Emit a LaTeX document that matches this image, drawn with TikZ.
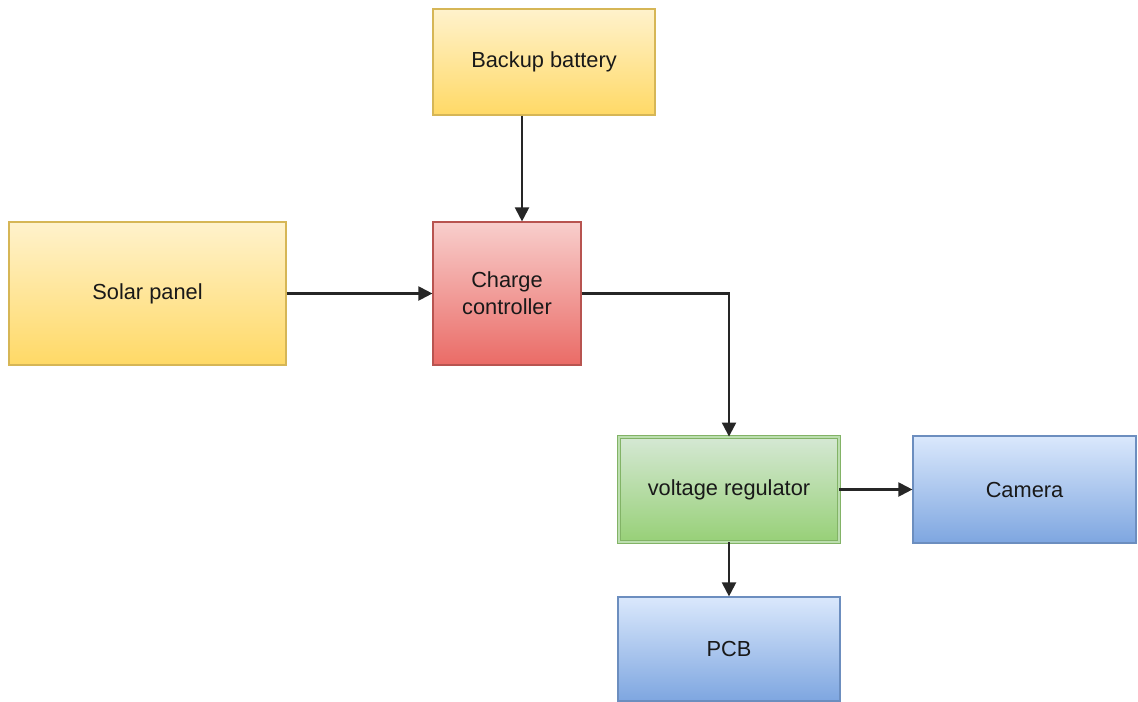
\documentclass[tikz,border=0pt]{standalone}
\usepackage{fontspec}
\setmainfont{Liberation Sans}
\usetikzlibrary{arrows.meta}
\definecolor{yelTop}{HTML}{FFF2CC}
\definecolor{yelBot}{HTML}{FFD966}
\definecolor{yelLine}{HTML}{D6B656}
\definecolor{redTop}{HTML}{F8CECC}
\definecolor{redBot}{HTML}{EA6B66}
\definecolor{redLine}{HTML}{B85450}
\definecolor{grnTop}{HTML}{D5E8D4}
\definecolor{grnBot}{HTML}{97D077}
\definecolor{grnLine}{HTML}{82B366}
\definecolor{bluTop}{HTML}{DAE8FC}
\definecolor{bluBot}{HTML}{7EA6E0}
\definecolor{bluLine}{HTML}{6C8EBF}
\tikzset{
  box/.style={rectangle, inner sep=2pt, align=center, text=black!90,
    font=\fontsize{15.5}{19}\selectfont, line width=0.8pt},
  yelbox/.style={box, draw=yelLine, top color=yelTop, bottom color=yelBot},
  redbox/.style={box, draw=redLine, top color=redTop, bottom color=redBot},
  grnbox/.style={box, draw=grnLine, top color=grnTop, bottom color=grnBot,
    double=grnTop!60!grnBot, double distance=1.6pt, line width=0.6pt},
  blubox/.style={box, draw=bluLine, top color=bluTop, bottom color=bluBot},
  conn/.style={draw=black!85, line width=1.5pt, -{Triangle[length=10pt,width=10pt]}}
}
\begin{document}
\begin{tikzpicture}[x=0.025cm, y=-0.025cm]
\useasboundingbox (0,0) rectangle (1138,702);
\node[yelbox, minimum width=5.55cm, minimum height=2.65cm] (battery) at (544,62) {Backup battery};
\node[yelbox, minimum width=6.925cm, minimum height=3.575cm] (solar) at (147.5,293.5) {Solar panel};
\node[redbox, minimum width=3.7cm, minimum height=3.575cm] (charge) at (507,293.5) {Charge\\controller};
\node[grnbox, minimum width=5.5cm, minimum height=2.625cm] (vr) at (729,489.5) {voltage regulator};
\node[blubox, minimum width=5.575cm, minimum height=2.675cm] (camera) at (1024.5,489.5) {Camera};
\node[blubox, minimum width=5.55cm, minimum height=2.6cm] (pcb) at (729,649) {PCB};
\coordinate (bx) at (522,0);
\draw[conn] (bx |- battery.south) -- (bx |- charge.north);
\draw[conn] (solar.east) -- (charge.west);
\draw[conn] (charge.east) -| (vr.north);
\draw[conn] (vr.east) -- (camera.west);
\draw[conn] (vr.south) -- (pcb.north);
\end{tikzpicture}
\end{document}
